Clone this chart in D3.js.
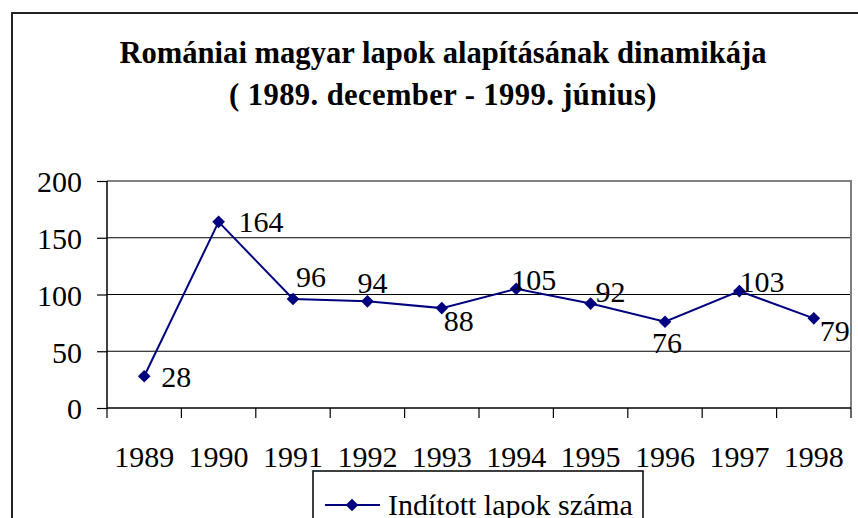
<!DOCTYPE html>
<html>
<head>
<meta charset="utf-8">
<script src="https://cdn.jsdelivr.net/npm/d3@7"></script>
<style>
  body { margin: 0; background: #fff; }
  svg text { font-family: "Liberation Serif", "Times New Roman", serif; fill: #000; }
</style>
</head>
<body>
<div id="chart"></div>
<script>
var years = ["1989", "1990", "1991", "1992", "1993", "1994", "1995", "1996", "1997", "1998"];
var lapok = [28, 164, 96, 94, 88, 105, 92, 76, 103, 79];
var yTicks = [0, 50, 100, 150, 200];
var seriesName = "Indított lapok száma";
var titleLines = ["Romániai magyar lapok alapításának dinamikája", "( 1989. december - 1999. június)"];

// where each value label sits relative to its marker (dx to text start, dy to baseline)
var labelOffsets = [[17, 11], [20, 10], [3, -12], [-10, -8], [2, 23], [-5, 1], [5, -2], [-13, 31], [0, 1], [6, 23]];

var width = 858,
    height = 518,
    plot = {left: 107, right: 851, top: 181, bottom: 408},
    navy = "#000080";

var svg = d3.select("#chart").append("svg")
    .attr("width", width)
    .attr("height", height);

// outer frame (runs off the right and bottom edge)
svg.append("rect")
    .attr("x", 12).attr("y", 13)
    .attr("width", 900).attr("height", 600)
    .attr("fill", "none")
    .attr("stroke", "#222")
    .attr("stroke-width", 2);

svg.append("text")
    .attr("text-anchor", "middle")
    .style("font-weight", "bold")
    .style("font-size", "30.6px")
    .selectAll("tspan")
    .data(titleLines)
    .enter().append("tspan")
    .attr("x", 443)
    .attr("y", function (d, i) { return 63 + i * 42; })
    .attr("letter-spacing", function (d, i) { return i ? "0.4px" : null; })
    .text(function (d) { return d; });

var x = d3.scaleBand().domain(years).range([plot.left, plot.right]),
    y = d3.scaleLinear().domain([0, 200]).range([plot.bottom, plot.top]);

// gridlines
svg.append("g")
    .selectAll("line")
    .data(yTicks.slice(1, 4))
    .enter().append("line")
    .attr("x1", plot.left).attr("x2", plot.right)
    .attr("y1", function (d) { return y(d); })
    .attr("y2", function (d) { return y(d); })
    .attr("stroke", "#000")
    .attr("stroke-width", 1.2);

// plot border top / right
svg.append("path")
    .attr("d", "M" + plot.left + "," + plot.top + "H" + plot.right + "V" + plot.bottom)
    .attr("fill", "none")
    .attr("stroke", "#808080")
    .attr("stroke-width", 2);

var yAxis = svg.append("g")
    .attr("transform", "translate(" + plot.left + ",0)")
    .call(d3.axisLeft(y).tickValues(yTicks).tickSize(10).tickPadding(15));

var xAxis = svg.append("g")
    .attr("transform", "translate(0," + plot.bottom + ")")
    .call(d3.axisBottom(x).tickSize(0).tickPadding(38));

// category boundary ticks
xAxis.selectAll(".sep")
    .data(years.concat(["end"]))
    .enter().append("line")
    .attr("class", "sep")
    .attr("x1", function (d, i) { return plot.left + i * x.step(); })
    .attr("x2", function (d, i) { return plot.left + i * x.step(); })
    .attr("y1", 0).attr("y2", 10)
    .attr("stroke", "#000")
    .attr("stroke-width", 1.2);

[yAxis, xAxis].forEach(function (a) {
  a.select(".domain").attr("stroke", "#000").attr("stroke-width", 1.5);
  a.selectAll(".tick line").attr("stroke", "#000").attr("stroke-width", 1.2);
  a.selectAll("text")
      .style("font-size", "30px")
      .attr("font-family", null)
      .attr("fill", "#000");
});
yAxis.selectAll("text").attr("dy", "0.36em");
xAxis.select(".domain").attr("d", "M" + plot.left + ",0H" + plot.right);
yAxis.select(".domain").attr("d", "M0," + plot.top + "V" + (plot.bottom + 1));

var cx = function (i) { return x(years[i]) + x.bandwidth() / 2; };

svg.append("path")
    .datum(lapok)
    .attr("fill", "none")
    .attr("stroke", navy)
    .attr("stroke-width", 2)
    .attr("d", d3.line().x(function (d, i) { return cx(i); }).y(function (d) { return y(d); }));

var diamond = d3.symbol().type(d3.symbolSquare).size(80);

svg.append("g")
    .selectAll("path")
    .data(lapok)
    .enter().append("path")
    .attr("d", diamond)
    .attr("fill", navy)
    .attr("transform", function (d, i) { return "translate(" + cx(i) + "," + y(d) + ") rotate(45)"; });

svg.append("g")
    .selectAll("text")
    .data(lapok)
    .enter().append("text")
    .attr("x", function (d, i) { return cx(i) + labelOffsets[i][0]; })
    .attr("y", function (d, i) { return y(d) + labelOffsets[i][1]; })
    .style("font-size", "30px")
    .text(function (d) { return d; });

// legend
var legend = svg.append("g");
legend.append("rect")
    .attr("x", 313).attr("y", 471)
    .attr("width", 330).attr("height", 80)
    .attr("fill", "#fff")
    .attr("stroke", "#000")
    .attr("stroke-width", 1.5);
legend.append("line")
    .attr("x1", 325).attr("x2", 380)
    .attr("y1", 505).attr("y2", 505)
    .attr("stroke", navy)
    .attr("stroke-width", 2);
legend.append("path")
    .attr("d", diamond)
    .attr("fill", navy)
    .attr("transform", "translate(352,505) rotate(45)");
legend.append("text")
    .attr("x", 388).attr("y", 515)
    .style("font-size", "30px")
    .text(seriesName);
</script>
</body>
</html>
